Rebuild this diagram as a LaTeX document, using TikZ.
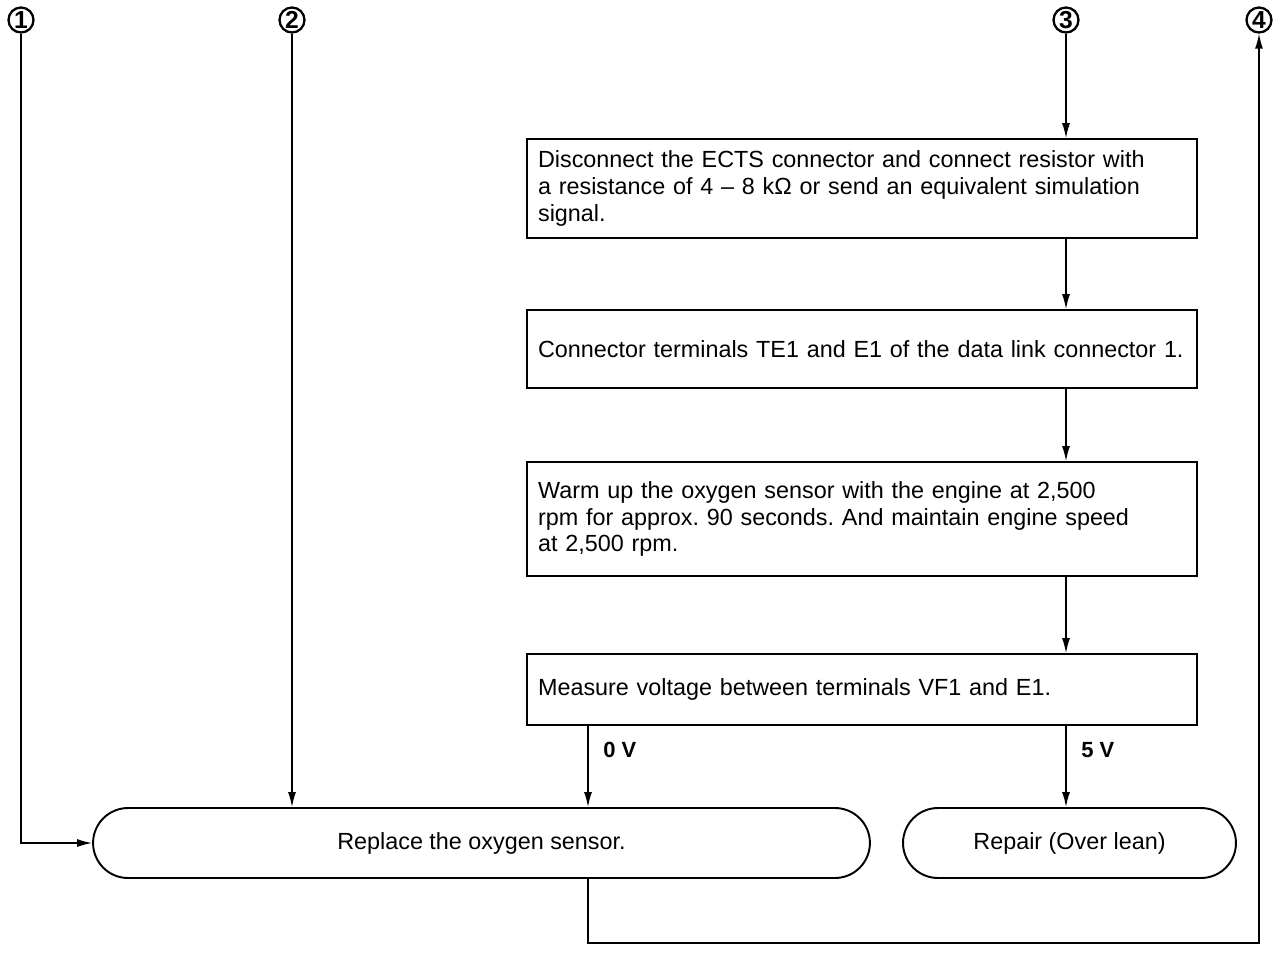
\documentclass[tikz,border=0pt]{standalone}
\usepackage{fontspec}
\setmainfont{Liberation Sans}
\usetikzlibrary{shapes.misc, arrows.meta}
\tikzstyle{arrow} = [line width=0.8pt,-{Latex[length=0.3cm,width=0.16cm]}]

\begin{document}
\frenchspacing
\begin{tikzpicture}
        [
            x=0.02cm,y=-0.02cm,
            stepbox/.style={rectangle,draw=black,line width=1pt,text width=12.96cm,inner sep=0.22cm,align=left,font=\fontsize{13.3}{15.3}\selectfont},
            endbox/.style={rounded rectangle,draw=black,line width=1.1pt,minimum height=1.4cm,inner sep=0pt,font=\fontsize{13.3}{15.3}\selectfont},
            numcircle/.style={circle,draw=black,line width=1.3pt,inner sep=0pt,minimum size=0.5cm,font=\bfseries\fontsize{14}{14}\selectfont},
            vlabel/.style={font=\bfseries\fontsize{12.5}{12.5}\selectfont},
        ]
    \useasboundingbox (0,0) rectangle (1276,958);

    \node[numcircle] (c1) at (21,20){1};
    \node[numcircle] (c2) at (292,20){2};
    \node[numcircle] (c3) at (1066,20){3};
    \node[numcircle] (c4) at (1259,20){4};

    \node[stepbox,minimum height=1.98cm] (box1) at (862,188.5){Disconnect the ECTS connector and connect resistor with\\a resistance of 4 – 8 kΩ or send an equivalent simulation\\signal.};
    \node[stepbox,minimum height=1.56cm] (box2) at (862,349){Connector terminals TE1 and E1 of the data link connector 1.};
    \node[stepbox,minimum height=2.28cm] (box3) at (862,519){Warm up the oxygen sensor with the engine at 2,500\\rpm for approx. 90 seconds. And maintain engine speed\\at 2,500 rpm.};
    \node[stepbox,minimum height=1.42cm] (box4) at (862,689.5){Measure voltage between terminals VF1 and E1.};

    \node[endbox,minimum width=15.54cm] (replace) at (481.5,843){Replace the oxygen sensor.};
    \node[endbox,minimum width=6.66cm] (repair) at (1069.5,843){Repair (Over lean)};

    \coordinate (lcol) at (588,0);

    \draw[arrow] (c1) |- (replace.west);
    \draw[arrow] (c2) -- (c2 |- replace.north);
    \draw[arrow] (c3) -- (c3 |- box1.north);
    \draw[arrow] (c3 |- box1.south) -- (c3 |- box2.north);
    \draw[arrow] (c3 |- box2.south) -- (c3 |- box3.north);
    \draw[arrow] (c3 |- box3.south) -- (c3 |- box4.north);
    \draw[arrow] (lcol |- box4.south) -- node[vlabel,pos=0.3,right=5pt]{0 V} (lcol |- replace.north);
    \draw[arrow] (c3 |- box4.south) -- node[vlabel,pos=0.3,right=5pt]{5 V} (c3 |- repair.north);
    \draw[arrow] (lcol |- replace.south) -- ++(0,64) -| (c4);
    \end{tikzpicture}
\end{document}
